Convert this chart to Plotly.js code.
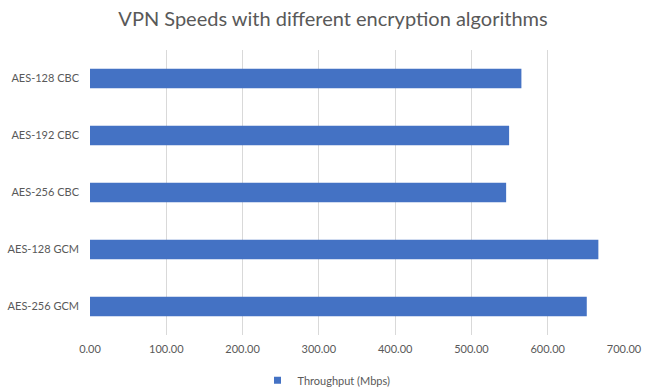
<!DOCTYPE html>
<html>
<head>
<meta charset="utf-8">
<script src="https://cdn.plot.ly/plotly-3.0.1.min.js"></script>
<style>html,body{margin:0;padding:0;background:#fff;}#chart{width:653px;height:392px;}</style>
</head>
<body>
<div id="chart"></div>
<script>
const categories = ["AES-128 CBC", "AES-192 CBC", "AES-256 CBC", "AES-128 GCM", "AES-256 GCM"];
const throughput = [565.5, 549.4, 545.5, 666.4, 651.2];
const seriesName = "Throughput (Mbps)";
const xTickVals = [0, 100, 200, 300, 400, 500, 600, 700];

const font = "Lato, 'Open Sans', sans-serif";
const barColor = "#4472C4";
const traces = [
  {
    type: "bar", orientation: "h", x: throughput, y: categories, name: seriesName,
    marker: {color: barColor}, showlegend: false
  },
  {
    type: "scatter", mode: "markers", x: [null], y: [null], name: seriesName,
    marker: {color: barColor, symbol: "square", size: 7}, showlegend: true
  }
];
const layout = {
  width: 653, height: 392,
  margin: {l: 90, r: 29, t: 50, b: 57},
  paper_bgcolor: "#fff", plot_bgcolor: "#fff",
  font: {family: font, color: "#595959", size: 11},
  title: {text: "VPN Speeds with different encryption algorithms", font: {family: font, size: 20, color: "#595959"},
          x: 0.51, xref: "container", xanchor: "center", y: 0.952, yref: "container", yanchor: "middle"},
  bargap: 0.66,
  xaxis: {range: [0, 700], tickvals: xTickVals, tickformat: ".2f", showgrid: true, gridcolor: "#d9d9d9", gridwidth: 1,
          zeroline: false, showline: false, ticks: "", ticklabelstandoff: 6, tickfont: {size: 11, color: "#595959"}, fixedrange: true},
  yaxis: {autorange: "reversed", showgrid: false, zeroline: false, showline: false, ticks: "", ticklabelstandoff: 10,
          tickfont: {size: 11, color: "#595959"}, fixedrange: true},
  showlegend: true,
  legend: {orientation: "h", x: 0.5, xref: "container", xanchor: "center", y: 0.03, yref: "container", yanchor: "middle",
           font: {size: 11, color: "#595959"}, itemwidth: 30, tracegroupgap: 0}
};
Plotly.newPlot("chart", traces, layout, {displayModeBar: false, staticPlot: true});
</script>
</body>
</html>
